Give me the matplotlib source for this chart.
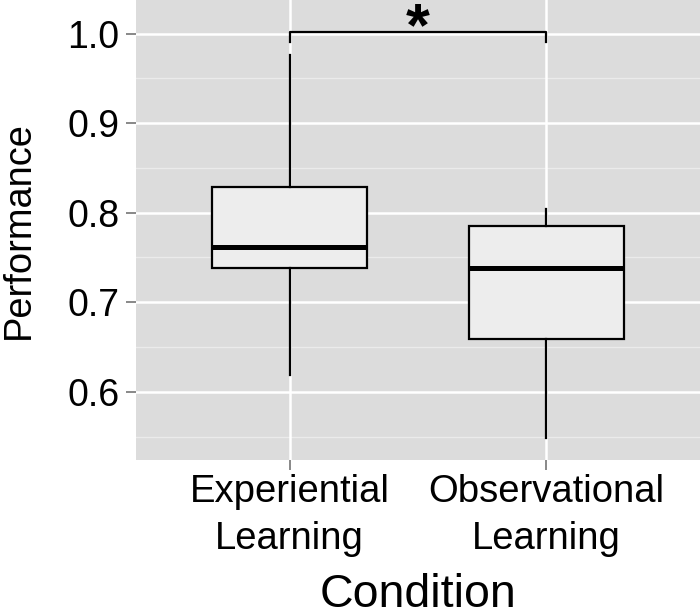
import matplotlib
matplotlib.use("Agg")
import matplotlib.pyplot as plt

# box statistics
conditions = ["Experiential\nLearning", "Observational\nLearning"]
whisker_low = [0.619, 0.548]
q1 = [0.738, 0.659]
median = [0.762, 0.738]
q3 = [0.829, 0.785]
whisker_high = [0.976, 0.804]

sig_y = 1.0015
sig_drop = 0.0105
sig_label = "*"

plt.rcParams["font.family"] = ["Liberation Sans", "DejaVu Sans"]

fig = plt.figure(figsize=(7, 6.16), dpi=100)
ax = fig.add_axes([0.194, 0.2532, 0.806, 0.7468])

ax.set_facecolor("#DCDCDC")
for s in ax.spines.values():
    s.set_visible(False)

# grid lines (major + minor), ggplot style
for y in [0.6, 0.7, 0.8, 0.9, 1.0]:
    ax.axhline(y, color="white", lw=1.8, zorder=0.5)
for y in [0.55, 0.65, 0.75, 0.85, 0.95]:
    ax.axhline(y, color="#EBEBEB", lw=1.0, zorder=0.5)
for x in [1, 2]:
    ax.axvline(x, color="white", lw=1.8, zorder=0.5)

stats = []
for i in range(len(conditions)):
    stats.append(dict(whislo=whisker_low[i], q1=q1[i], med=median[i],
                      q3=q3[i], whishi=whisker_high[i], fliers=[]))

ax.bxp(stats, positions=[1, 2], widths=0.605, patch_artist=True,
       showcaps=False, showfliers=False,
       boxprops=dict(facecolor="#EDEDED", edgecolor="black", linewidth=1.6),
       medianprops=dict(color="black", linewidth=3.6),
       whiskerprops=dict(color="black", linewidth=1.6),
       zorder=2)

# significance bracket
ax.plot([1, 1, 2, 2], [sig_y - sig_drop, sig_y, sig_y, sig_y - sig_drop],
        color="black", lw=1.6, zorder=3, clip_on=False)
ax.text(1.5, 0.9872, sig_label, ha="center", va="baseline",
        fontsize=44, fontweight="bold", zorder=3)

ax.set_xlim(0.4, 2.6)
ax.set_ylim(0.5239, 1.0374)
ax.set_xticks([1, 2])
ax.set_xticklabels(conditions, fontsize=27.5, linespacing=1.38)
ax.set_yticks([0.6, 0.7, 0.8, 0.9, 1.0])
ax.set_yticklabels(["0.6", "0.7", "0.8", "0.9", "1.0"], fontsize=27)
ax.tick_params(axis="both", length=7, width=1.3, color="#7F7F7F")
ax.tick_params(axis="x", pad=3)
ax.tick_params(axis="y", pad=5)

ax.set_xlabel("Condition", fontsize=33.5, labelpad=12)
ax.set_ylabel("Performance", fontsize=27.4, labelpad=22)

fig.savefig("out.png", dpi=100)
